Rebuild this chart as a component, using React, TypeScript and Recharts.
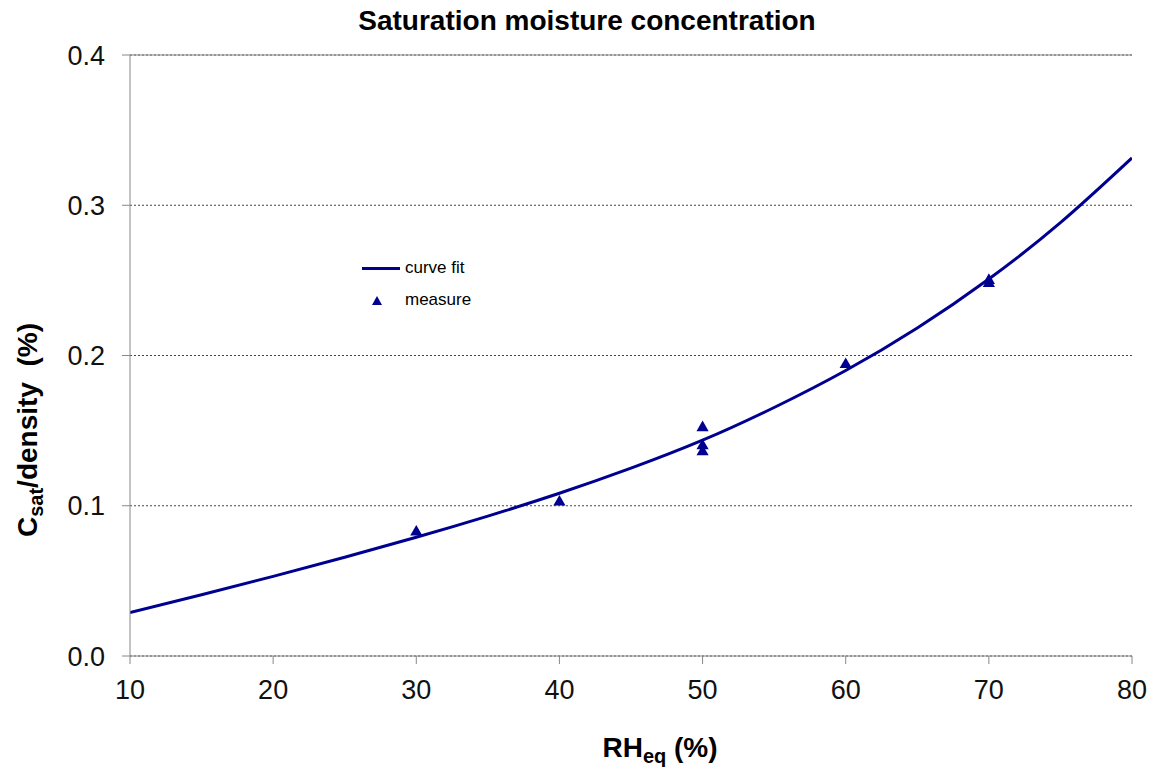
import React from 'react';
import { ComposedChart, Line, Scatter, XAxis, YAxis, CartesianGrid, ReferenceLine } from 'recharts';

const rhFit = [10, 15, 20, 25, 30, 35, 40, 45, 50, 55, 60, 65, 70, 75, 80];
const csatFit = [0.029, 0.0408, 0.053, 0.0657, 0.079, 0.0931, 0.1083, 0.125, 0.1436, 0.1654, 0.19, 0.2183, 0.2509, 0.2884, 0.3315];

const rhMeasure = [30, 40, 50, 50, 50, 60, 70, 70];
const csatMeasure = [0.0825, 0.1025, 0.152, 0.140, 0.136, 0.194, 0.248, 0.250];

const xTicks = [10, 20, 30, 40, 50, 60, 70, 80];
const yTicks = [0, 0.1, 0.2, 0.3, 0.4];

const navy = '#000090';
const font = '"Liberation Sans", Arial, sans-serif';

const fitData = rhFit.map((rh, i) => ({ rh, csat: csatFit[i] }));
const measureData = rhMeasure.map((rh, i) => ({ rh, csat: csatMeasure[i] }));

const centered = (x: number, y: number): React.CSSProperties => ({
    position: 'absolute',
    left: x,
    top: y,
    transform: 'translate(-50%, -50%)',
    whiteSpace: 'nowrap',
    lineHeight: 1,
});

export default function App() {
    return (
        <div style={{ position: 'absolute', left: 0, top: 0, width: 1156, height: 773, background: '#fff', fontFamily: font }}>
            <ComposedChart width={1156} height={773} margin={{ top: 55, right: 24, left: 0, bottom: 0 }}>
                <CartesianGrid horizontal vertical={false} stroke="#444" strokeDasharray="2 2" />
                <ReferenceLine y={0.4} stroke="#888" />
                <XAxis
                    type="number"
                    dataKey="rh"
                    domain={[10, 80]}
                    ticks={xTicks}
                    allowDataOverflow
                    height={117}
                    stroke="#888"
                    tickSize={8}
                    tickMargin={16}
                    tick={{ fill: '#111', fontSize: 27, fontFamily: font }}
                />
                <YAxis
                    type="number"
                    dataKey="csat"
                    domain={[0, 0.4]}
                    ticks={yTicks}
                    width={130}
                    stroke="#888"
                    tickSize={8}
                    tickMargin={17}
                    tickFormatter={(v: number) => v.toFixed(1)}
                    tick={{ fill: '#111', fontSize: 27, fontFamily: font }}
                />
                <Line
                    data={fitData}
                    dataKey="csat"
                    type="natural"
                    stroke={navy}
                    strokeWidth={3}
                    dot={false}
                    isAnimationActive={false}
                    name="curve fit"
                />
                <Scatter
                    data={measureData}
                    dataKey="csat"
                    shape="triangle"
                    fill={navy}
                    isAnimationActive={false}
                    name="measure"
                />
            </ComposedChart>

            <div style={{ ...centered(587, 21), fontSize: 28, fontWeight: 'bold' }}>
                Saturation moisture concentration
            </div>
            <div style={{ ...centered(660, 750), fontSize: 28, fontWeight: 'bold' }}>
                RH<sub style={{ fontSize: 20 }}>eq</sub> (%)
            </div>
            <div style={{ ...centered(30, 430), transform: 'translate(-50%, -50%) rotate(-90deg)', fontSize: 28, fontWeight: 'bold' }}>
                C<sub style={{ fontSize: 20 }}>sat</sub>/density&nbsp; (%)
            </div>

            <div style={{ position: 'absolute', left: 362, top: 252, fontSize: 17, color: '#000', lineHeight: '32px' }}>
                <div style={{ display: 'flex', alignItems: 'center' }}>
                    <span style={{ display: 'inline-block', width: 38, height: 3, background: navy, marginRight: 5 }} />
                    curve fit
                </div>
                <div style={{ display: 'flex', alignItems: 'center' }}>
                    <svg width={38} height={12} style={{ marginRight: 5 }}>
                        <polygon points="15,2 20,11 10,11" fill={navy} />
                    </svg>
                    measure
                </div>
            </div>
        </div>
    );
}
